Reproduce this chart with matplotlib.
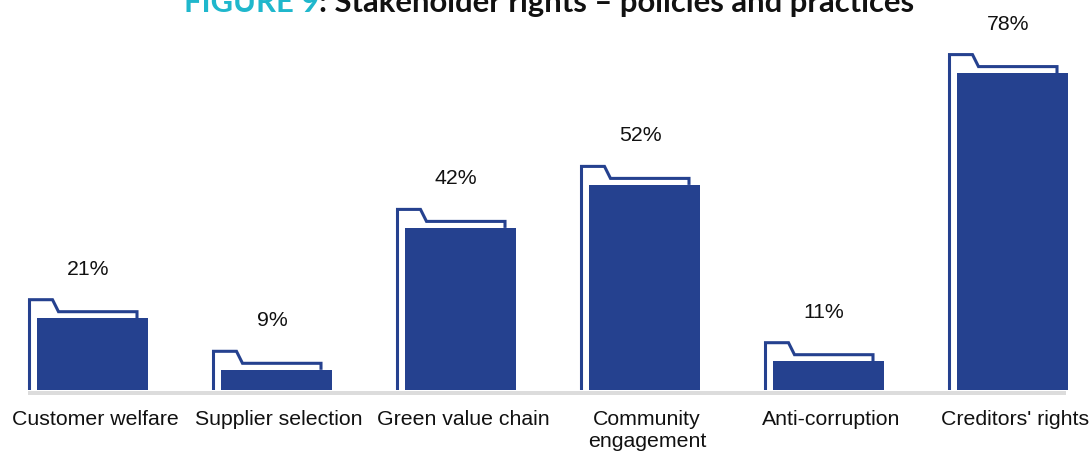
import matplotlib
matplotlib.use("Agg")
import matplotlib.pyplot as plt
from matplotlib.patches import Rectangle
from matplotlib.lines import Line2D

categories = ["Customer welfare", "Supplier selection", "Green value chain",
              "Community\nengagement", "Anti-corruption", "Creditors' rights"]
values = [21, 9, 42, 52, 11, 78]
value_labels = ["21%", "9%", "42%", "52%", "11%", "78%"]

title_lead = "FIGURE 9"
title_rest = ": Stakeholder rights \u2013 policies and practices"

NAVY = "#25418f"
CYAN = "#1fb7cc"
GREY = "#dcdcdc"
TEXT = "#111111"
FS = 15.3

W, H, DPI = 1089, 453, 100
fig = plt.figure(figsize=(W / DPI, H / DPI), dpi=DPI)

# axes: bottom edge is the baseline, spanning the full width
base_px = 390            # baseline, pixels from top
ax = fig.add_axes([0, (H - base_px) / H, 1, base_px / H])
ax.set_axis_off()

step_px = 184.0          # distance between category centres, px
first_px = 92.5          # centre of first bar, px
ppu_y = 4.30             # pixels per percentage point
ax.set_xlim(-first_px / step_px, (W - first_px) / step_px)
ax.set_ylim(0, base_px / ppu_y)

px = 1.0 / step_px       # one pixel in x data units
py = 1.0 / ppu_y         # one pixel in y data units

# grey floor strip
ax.add_patch(Rectangle((-64.5 * px, -5 * py), (1066 - 28) * px, 4.5 * py,
                       facecolor=GREY, edgecolor="none", clip_on=False, zorder=1))

for i, (v, lab) in enumerate(zip(values, value_labels)):
    solid_l = i - 55.5 * px
    solid_w = 111 * px
    solid_top = v - 18.5 * py
    out_l = solid_l - 7.5 * px
    out_r = solid_l + solid_w - 11 * px
    body_top = v - 12 * py
    tab_r = out_l + 23 * px
    slant_r = out_l + 29 * px
    # folder outline behind the solid bar
    xs = [out_l, out_l, tab_r, slant_r, out_r, out_r]
    ys = [0, v, v, body_top, body_top, solid_top]
    ax.add_line(Line2D(xs, ys, color=NAVY, lw=2.2, solid_joinstyle="miter",
                       solid_capstyle="butt", zorder=2))
    ax.add_patch(Rectangle((solid_l, 0), solid_w, solid_top,
                           facecolor=NAVY, edgecolor="none", zorder=3))
    ax.text(i - 4.5 * px, v + 25 * py, lab, ha="center", va="baseline",
            fontsize=FS, family="Liberation Sans", color=TEXT)
    ax.text(i + 2.5 * px, -20 * py, categories[i], ha="center", va="top",
            fontsize=FS, family="Liberation Sans", color=TEXT,
            linespacing=1.2, clip_on=False)

# title, partly cut off by the top edge
t1 = fig.text(184 / W, 1 - 12 / H, title_lead, ha="left", va="baseline",
              fontsize=22.3, fontweight="bold", family="Lato", color=CYAN)
fig.canvas.draw()
bb = t1.get_window_extent()
fig.text(bb.x1 / W, 1 - 12 / H, title_rest, ha="left", va="baseline",
         fontsize=22.3, fontweight="bold", family="Lato", color=TEXT)

fig.savefig("out.png", dpi=DPI)
